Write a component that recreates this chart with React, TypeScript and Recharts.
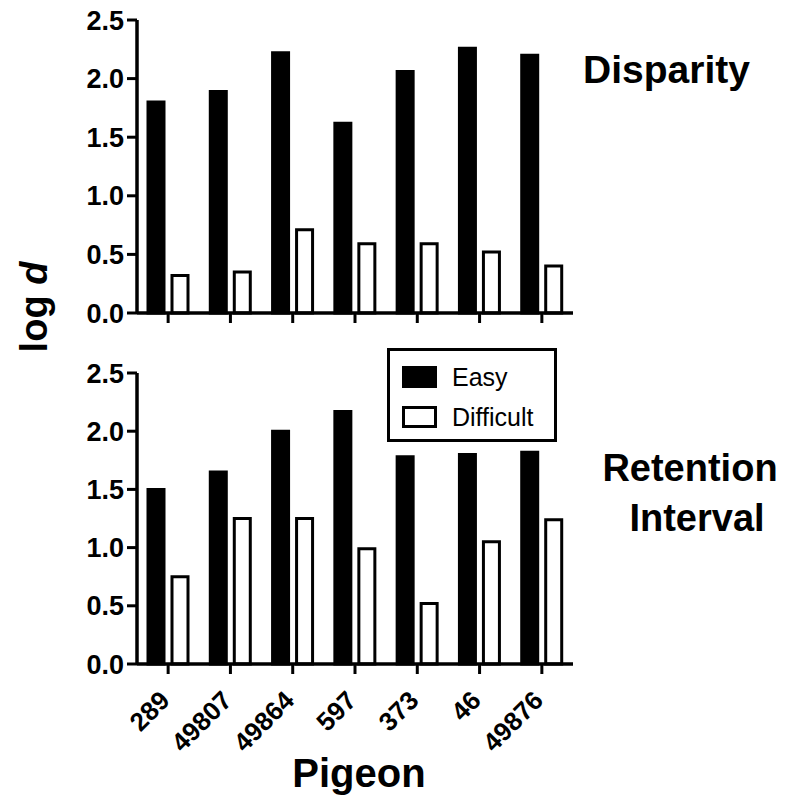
import { BarChart, Bar, XAxis, YAxis, Legend } from 'recharts';

const PIGEONS = ['289', '49807', '49864', '597', '373', '46', '49876'];

const DISPARITY_EASY = [1.8, 1.89, 2.22, 1.62, 2.06, 2.26, 2.2];
const DISPARITY_DIFFICULT = [0.32, 0.35, 0.71, 0.59, 0.59, 0.52, 0.4];

const RETENTION_EASY = [1.5, 1.65, 2.0, 2.17, 1.78, 1.8, 1.82];
const RETENTION_DIFFICULT = [0.75, 1.25, 1.25, 0.99, 0.52, 1.05, 1.24];

const Y_TICKS = [0, 0.5, 1, 1.5, 2, 2.5];

const SERIES = [
  { key: 'easy', name: 'Easy', fill: '#000' },
  { key: 'difficult', name: 'Difficult', fill: '#fff' },
];

const FONT = '"Liberation Sans", Arial, Helvetica, sans-serif';

const disparityRows = PIGEONS.map((p, i) => ({
  pigeon: p,
  easy: DISPARITY_EASY[i],
  difficult: DISPARITY_DIFFICULT[i],
}));

const retentionRows = PIGEONS.map((p, i) => ({
  pigeon: p,
  easy: RETENTION_EASY[i],
  difficult: RETENTION_DIFFICULT[i],
}));

const axisLine = { stroke: '#000', strokeWidth: 3.5 };
const tickLine = { stroke: '#000', strokeWidth: 3 };
const yTickStyle = { fontSize: 27, fontWeight: 'bold', fill: '#000', fontFamily: FONT };

// rotated pigeon ids under the bottom panel
const PigeonTick = ({ x, y, payload }: any) => (
  <g transform={`translate(${x + 3},${y + 26})`}>
    <text
      transform="rotate(-45)"
      textAnchor="end"
      fontSize={26}
      fontWeight="bold"
      fontFamily={FONT}
      fill="#000"
    >
      {payload.value}
    </text>
  </g>
);

const NoTick = () => <g />;

const LegendBox = (props: any) => {
  const items = [...(props.payload || [])].sort(
    (a: any, b: any) =>
      SERIES.findIndex((s) => s.name === a.value) - SERIES.findIndex((s) => s.name === b.value)
  );
  return (
    <div
      style={{
        boxSizing: 'border-box',
        width: 170,
        height: 94,
        border: '3px solid #000',
        background: '#fff',
        padding: '15px 0 0 12px',
        fontFamily: FONT,
      }}
    >
      {items.map((entry: any, idx: number) => {
        const s = SERIES.find((se) => se.name === entry.value) || SERIES[idx];
        return (
          <div
            key={idx}
            style={{ display: 'flex', alignItems: 'center', height: 22, marginBottom: 18 }}
          >
            <span
              style={{
                boxSizing: 'border-box',
                display: 'inline-block',
                width: 35,
                height: 22,
                background: s.fill,
                border: '3px solid #000',
              }}
            />
            <span style={{ marginLeft: 15, fontSize: 25, color: '#000', lineHeight: '22px' }}>
              {entry.value}
            </span>
          </div>
        );
      })}
    </div>
  );
};

function Bars() {
  return SERIES.map((s) => (
    <Bar
      key={s.key}
      dataKey={s.key}
      name={s.name}
      fill={s.fill}
      stroke="#000"
      strokeWidth={3}
      barSize={16}
      isAnimationActive={false}
    />
  ));
}

export default function App() {
  return (
    <div
      style={{
        position: 'absolute',
        left: 0,
        top: 0,
        width: 793,
        height: 799,
        background: '#fff',
        overflow: 'hidden',
      }}
    >
      <div style={{ position: 'absolute', left: 0, top: 0 }}>
        <BarChart
          width={793}
          height={340}
          data={disparityRows}
          margin={{ top: 20, right: 220, bottom: 0, left: 0 }}
          barGap={8}
        >
          <XAxis
            dataKey="pigeon"
            height={27}
            axisLine={axisLine}
            tickLine={tickLine}
            tickSize={10}
            tick={NoTick}
          />
          <YAxis
            width={137}
            domain={[0, 2.5]}
            ticks={Y_TICKS}
            tickFormatter={(v: number) => v.toFixed(1)}
            axisLine={axisLine}
            tickLine={tickLine}
            tickSize={10}
            tickMargin={3}
            tick={yTickStyle}
          />
          {Bars()}
        </BarChart>
      </div>

      <div style={{ position: 'absolute', left: 0, top: 340 }}>
        <BarChart
          width={793}
          height={459}
          data={retentionRows}
          margin={{ top: 33, right: 220, bottom: 0, left: 0 }}
          barGap={8}
        >
          <XAxis
            dataKey="pigeon"
            height={135}
            axisLine={axisLine}
            tickLine={tickLine}
            tickSize={10}
            interval={0}
            tick={PigeonTick}
          />
          <YAxis
            width={137}
            domain={[0, 2.5]}
            ticks={Y_TICKS}
            tickFormatter={(v: number) => v.toFixed(1)}
            axisLine={axisLine}
            tickLine={tickLine}
            tickSize={10}
            tickMargin={3}
            tick={yTickStyle}
          />
          <Legend
            layout="vertical"
            align="center"
            verticalAlign="middle"
            content={LegendBox}
            wrapperStyle={{ left: 387, top: 8, width: 170, height: 94 }}
          />
          {Bars()}
        </BarChart>
      </div>

      <svg
        width={793}
        height={799}
        style={{ position: 'absolute', left: 0, top: 0, pointerEvents: 'none' }}
        fontFamily={FONT}
        fontWeight="bold"
        fill="#000"
      >
        <text x={583} y={83} fontSize={39}>
          Disparity
        </text>
        <text x={690} y={481} fontSize={38} textAnchor="middle">
          Retention
        </text>
        <text x={697} y={531} fontSize={38} textAnchor="middle">
          Interval
        </text>
        <text x={47} y={307} fontSize={38} textAnchor="middle" transform="rotate(-90 47 307)">
          log <tspan fontStyle="italic">d</tspan>
        </text>
        <text x={359} y={787} fontSize={40} textAnchor="middle">
          Pigeon
        </text>
      </svg>
    </div>
  );
}
